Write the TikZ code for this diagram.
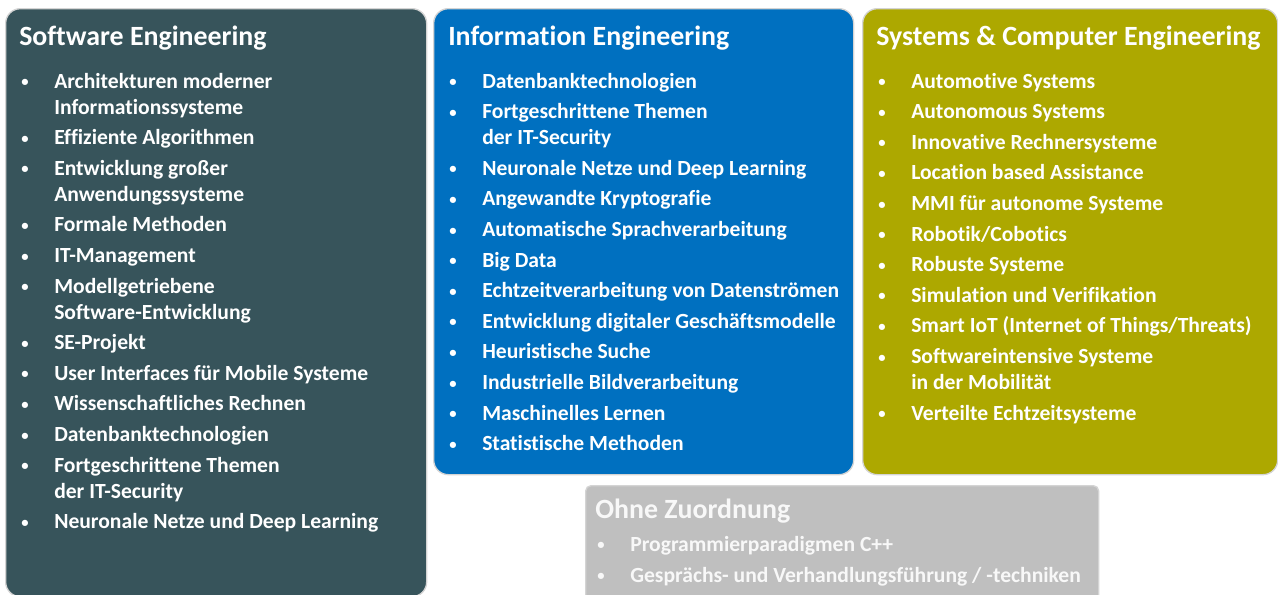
\documentclass[tikz,border=0pt]{standalone}
\usepackage{fontspec}
\setmainfont{Carlito}[Ligatures={NoCommon}]

\definecolor{secol}{HTML}{37545B}
\definecolor{iecol}{HTML}{0070C0}
\definecolor{scecol}{HTML}{ADA800}
\definecolor{ozcol}{HTML}{BFBFBF}
\definecolor{oztext}{HTML}{F8F8F8}

\newcommand{\bul}{\makebox[24.75pt][l]{\raisebox{0.12ex}{\fontsize{11}{11}\selectfont\textbullet}}}
\newcommand{\gap}{\\[3.45pt]}

\tikzset{
  area/.style={draw=black!17, line width=1pt, rounded corners=11pt, anchor=north west, inner sep=0pt},
  head/.style={anchor=base west, inner sep=0pt, text=white, font=\fontsize{20.9}{24}\selectfont\bfseries},
  list/.style={anchor=base west, inner sep=0pt, text=white, font=\fontsize{16.2}{19.5}\selectfont\bfseries},
}

\begin{document}
\begin{tikzpicture}[x=0.75pt,y=-0.75pt]
\useasboundingbox (0,0) rectangle (1278,594);

% boxes
\node[area, fill=secol, minimum width=315.75pt, minimum height=441pt] (se) at (5,8) {};
\node[area, fill=iecol, minimum width=315pt, minimum height=349.5pt] (ie) at (433,8) {};
\node[area, fill=scecol, minimum width=311.25pt, minimum height=349.5pt] (sce) at (862,8) {};
\node[area, fill=ozcol, rounded corners=4pt, minimum width=384.75pt, minimum height=90pt] (oz) at (585,485) {};

% Software Engineering
\node[head] (se-title) at (19,45) {Software Engineering};
\node[list] (se-list) at (21,88) {\begin{tabular}[t]{@{}l@{}l@{}}
\bul & Architekturen moderner\\
 & Informationssysteme\gap
\bul & Effiziente Algorithmen\gap
\bul & Entwicklung großer\\
 & Anwendungssysteme\gap
\bul & Formale Methoden\gap
\bul & IT-Management\gap
\bul & Modellgetriebene\\
 & Software-Entwicklung\gap
\bul & SE-Projekt\gap
\bul & User Interfaces für Mobile Systeme\gap
\bul & Wissenschaftliches Rechnen\gap
\bul & Datenbanktechnologien\gap
\bul & Fortgeschrittene Themen\\
 & der IT-Security\gap
\bul & Neuronale Netze und Deep Learning
\end{tabular}};

% Information Engineering
\node[head] (ie-title) at (448,45) {Information Engineering};
\node[list] (ie-list) at (449,88) {\begin{tabular}[t]{@{}l@{}l@{}}
\bul & Datenbanktechnologien\gap
\bul & Fortgeschrittene Themen\\
 & der IT-Security\gap
\bul & Neuronale Netze und Deep Learning\gap
\bul & Angewandte Kryptografie\gap
\bul & Automatische Sprachverarbeitung\gap
\bul & Big Data\gap
\bul & Echtzeitverarbeitung von Datenströmen\gap
\bul & Entwicklung digitaler Geschäftsmodelle\gap
\bul & Heuristische Suche\gap
\bul & Industrielle Bildverarbeitung\gap
\bul & Maschinelles Lernen\gap
\bul & Statistische Methoden
\end{tabular}};

% Systems & Computer Engineering
\node[head] (sce-title) at (876,45) {Systems \& Computer Engineering};
\node[list] (sce-list) at (878,88) {\begin{tabular}[t]{@{}l@{}l@{}}
\bul & Automotive Systems\gap
\bul & Autonomous Systems\gap
\bul & Innovative Rechnersysteme\gap
\bul & Location based Assistance\gap
\bul & MMI für autonome Systeme\gap
\bul & Robotik/Cobotics\gap
\bul & Robuste Systeme\gap
\bul & Simulation und Verifikation\gap
\bul & Smart IoT (Internet of Things/Threats)\gap
\bul & Softwareintensive Systeme\\
 & in der Mobilität\gap
\bul & Verteilte Echtzeitsysteme
\end{tabular}};

% Ohne Zuordnung
\node[head, text=oztext] (oz-title) at (595,518) {Ohne Zuordnung};
\node[list, text=oztext] (oz-list) at (597,551) {\begin{tabular}[t]{@{}l@{}l@{}}
\bul & Programmierparadigmen C++\\[3.75pt]
\bul & Gesprächs- und Verhandlungsführung / -techniken
\end{tabular}};
\end{tikzpicture}
\end{document}
